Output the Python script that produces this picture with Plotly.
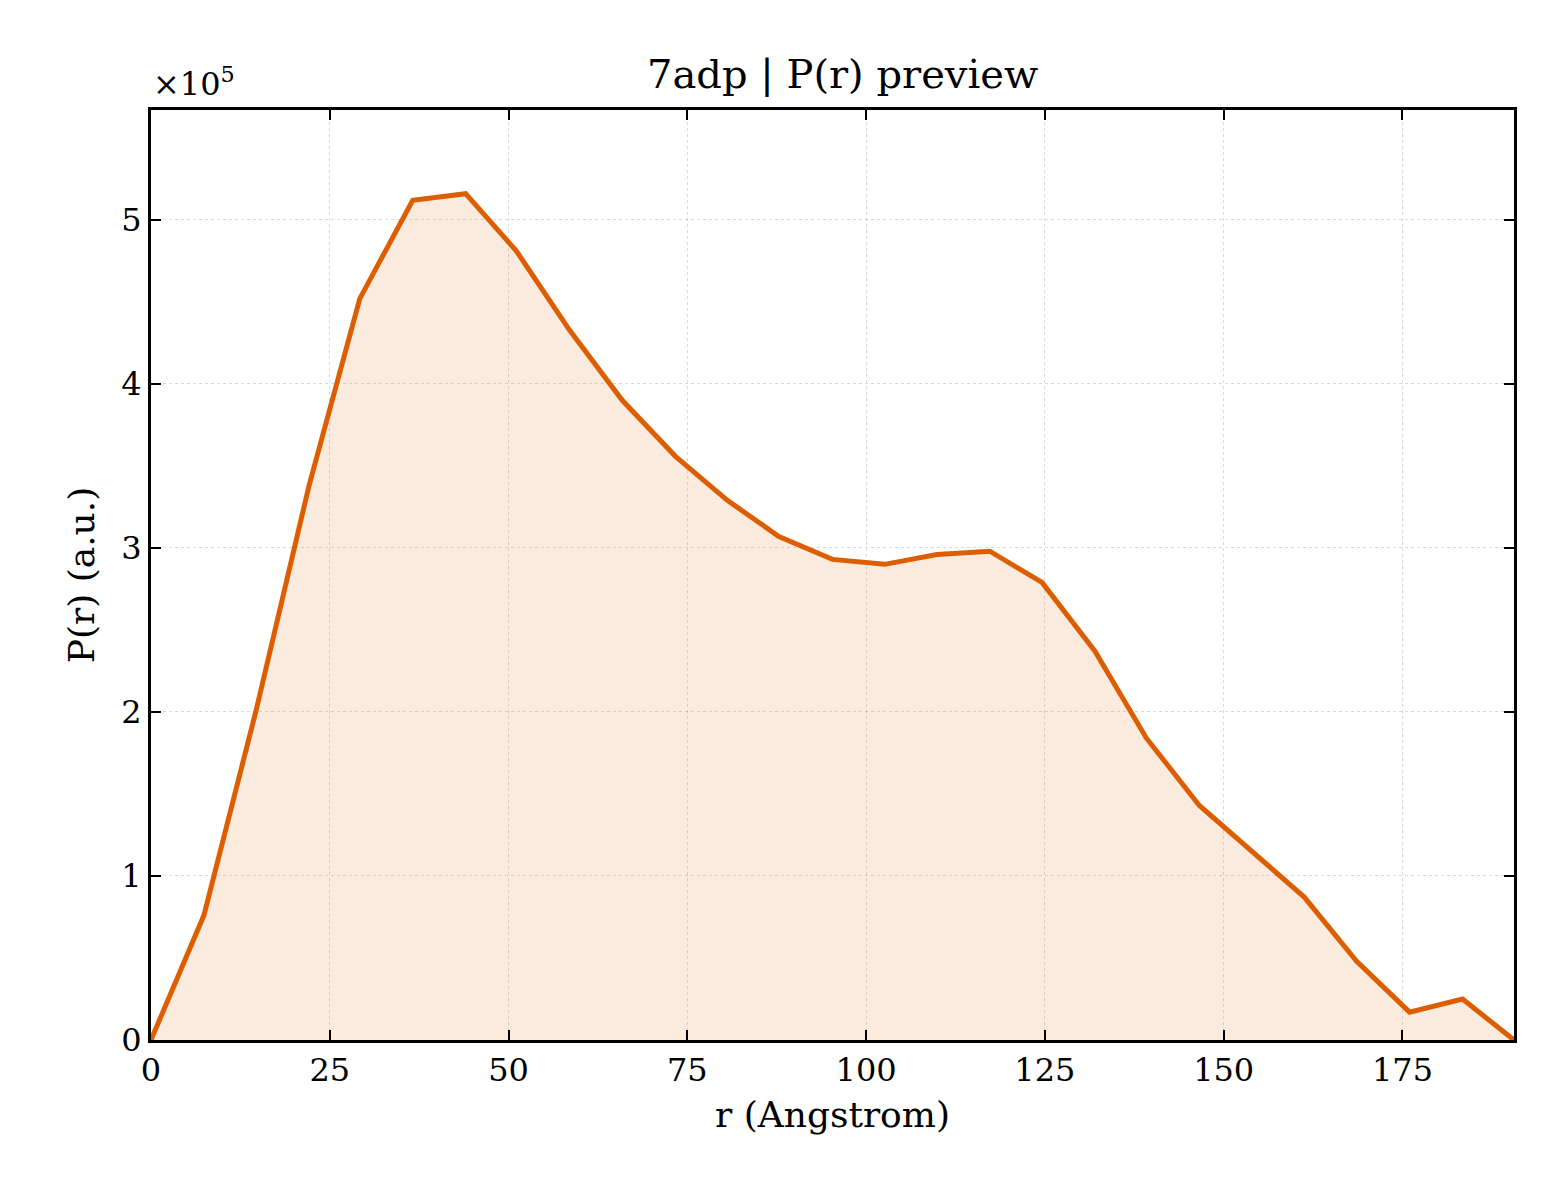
import plotly.graph_objects as go

r_vals = [0, 7.4, 14.7, 22.1, 29.2, 36.6, 44.0, 51.1, 58.5, 65.9, 73.3, 80.6, 87.8, 95.3,
          102.6, 109.9, 117.3, 124.6, 132.0, 139.2, 146.6, 153.9, 161.3, 168.6, 176.0, 183.4, 190.6]
p_vals = [0, 0.76, 2.01, 3.38, 4.52, 5.12, 5.16, 4.81, 4.33, 3.90, 3.56, 3.29, 3.07, 2.93,
          2.90, 2.96, 2.98, 2.79, 2.37, 1.84, 1.43, 1.15, 0.87, 0.48, 0.17, 0.25, 0]
y_ticks = [0, 1, 2, 3, 4, 5]
x_ticks = [0, 25, 50, 75, 100, 125, 150, 175]

font = "DejaVu Serif"
fig = go.Figure(go.Scatter(
    x=r_vals, y=p_vals, mode="lines", fill="tozeroy",
    fillcolor="rgba(221,94,0,0.13)", line=dict(color="#DD5E00", width=5)))

axis = dict(showline=True, linecolor="black", linewidth=3, mirror="ticks",
            ticks="inside", ticklen=10, tickwidth=2, tickcolor="black",
            showgrid=True, gridcolor="rgba(0,0,0,0.15)", griddash="dot", gridwidth=1,
            zeroline=False, tickfont=dict(family=font, size=32, color="black"))
fig.update_xaxes(axis, range=[0, 190.6], tickvals=x_ticks,
                 title=dict(text="r (Angstrom)", font=dict(family=font, size=36, color="black"), standoff=14))
fig.update_yaxes(axis, range=[0, 5.67], tickvals=y_ticks, ticktext=[str(t) for t in y_ticks],
                 title=dict(text="P(r) (a.u.)", font=dict(family=font, size=36, color="black"), standoff=16))
fig.update_layout(
    width=1560, height=1200, plot_bgcolor="white", paper_bgcolor="white",
    margin=dict(l=143, r=54, t=102, b=168), showlegend=False,
    title=dict(text="7adp | P(r) preview", x=0.535, xanchor="center", y=0.945, yanchor="middle",
               font=dict(family=font, size=40, color="black")),
    annotations=[dict(text="×10<sup>5</sup>", xref="paper", yref="paper", x=0, y=1.005,
                      xanchor="left", yanchor="bottom", showarrow=False,
                      font=dict(family=font, size=32, color="black"))])
fig.write_html("out.html")
